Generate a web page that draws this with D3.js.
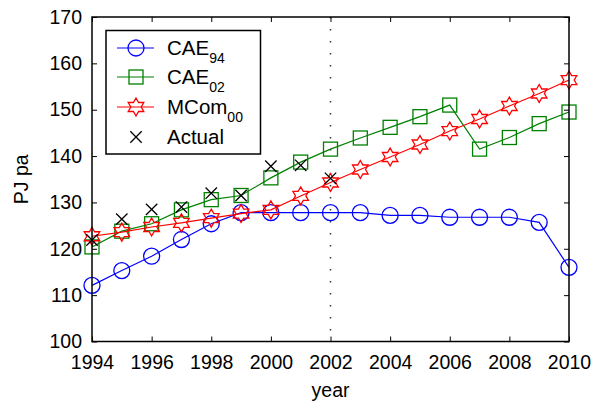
<!DOCTYPE html>
<html>
<head>
<meta charset="utf-8">
<script src="https://cdn.jsdelivr.net/npm/d3@7"></script>
<style>
  body { margin: 0; background: #fff; }
  svg { font-family: "Liberation Sans", Arial, sans-serif; }
</style>
</head>
<body>
<svg id="chart" width="597" height="405"></svg>
<script>
const svg = d3.select('svg#chart');

// data
const years = d3.range(1994, 2011);
const cae94 = [112.1, 115.3, 118.4, 122.0, 125.4, 127.8, 127.8, 127.8, 127.8, 127.8,
               127.2, 127.2, 126.8, 126.8, 126.8, 125.7, 116.0];
const cae02 = [120.4, 123.8, 125.4, 128.4, 130.6, 131.5, 135.3, 138.7, 141.5, 143.9,
               146.2, 148.5, 151.0, 141.5, 144.0, 147.0, 149.5];
const mcom00 = [122.7, 123.6, 124.7, 125.6, 126.6, 127.6, 128.4, 131.4, 134.3, 137.1,
                139.8, 142.5, 145.4, 148.0, 150.8, 153.5, 156.4];
const actualYears = d3.range(1994, 2003);
const actual = [121.9, 126.4, 128.5, 129.0, 132.0, 131.5, 137.8, 138.0, 135.2];
const xTicks = d3.range(1994, 2011, 2);
const yTicks = d3.range(100, 171, 10);
const markYear = 2002;

const margin = { top: 17, right: 28, bottom: 63.5, left: 92 };
const innerWidth = 597 - margin.left - margin.right;
const innerHeight = 405 - margin.top - margin.bottom;

const g = svg.append('g')
  .attr('transform', `translate(${margin.left},${margin.top})`);

const xScale = d3.scaleLinear().domain([1994, 2010]).range([0, innerWidth]);
const yScale = d3.scaleLinear().domain([100, 170]).range([innerHeight, 0]);

// ticks pointing inward on all four sides
const tickLen = 5;
const axisStyle = sel => {
  sel.select('.domain').remove();
  sel.selectAll('.tick line').attr('stroke', '#000').attr('stroke-width', 1);
  sel.selectAll('.tick text').attr('fill', '#000').style('font-size', '19.5px');
};
const noLabels = sel => sel.selectAll('.tick text').remove();

g.append('g')
  .attr('transform', `translate(0,${innerHeight})`)
  .call(d3.axisBottom(xScale).tickValues(xTicks).tickFormat(d3.format('d'))
    .tickSizeInner(-tickLen).tickSizeOuter(0).tickPadding(14))
  .call(axisStyle);
g.append('g')
  .call(d3.axisTop(xScale).tickValues(xTicks)
    .tickSizeInner(-tickLen).tickSizeOuter(0))
  .call(axisStyle)
  .call(noLabels);
g.append('g')
  .call(d3.axisLeft(yScale).tickValues(yTicks)
    .tickSizeInner(-tickLen).tickSizeOuter(0).tickPadding(10))
  .call(axisStyle);
g.append('g')
  .attr('transform', `translate(${innerWidth},0)`)
  .call(d3.axisRight(yScale).tickValues(yTicks)
    .tickSizeInner(-tickLen).tickSizeOuter(0))
  .call(axisStyle)
  .call(noLabels);

// dotted vertical line
g.append('line')
  .attr('x1', xScale(markYear)).attr('x2', xScale(markYear))
  .attr('y1', 0).attr('y2', innerHeight)
  .attr('stroke', '#333').attr('stroke-width', 1.5)
  .attr('stroke-dasharray', '1.5,10.5');

// marker shapes
const hexagram = (R) => {
  const r = R / Math.sqrt(3);
  const pts = d3.range(12).map(i => {
    const a = -Math.PI / 2 + i * Math.PI / 6;
    const rr = i % 2 === 0 ? R : r;
    return [rr * Math.cos(a), rr * Math.sin(a)];
  });
  return 'M' + pts.map(p => p.join(',')).join('L') + 'Z';
};
const drawMarker = (sel, type, color) => {
  if (type === 'circle') {
    sel.append('circle').attr('r', 8);
  } else if (type === 'square') {
    sel.append('rect').attr('x', -7).attr('y', -7).attr('width', 14).attr('height', 14);
  } else if (type === 'star') {
    sel.append('path').attr('d', hexagram(9));
  } else {
    sel.append('path').attr('d', 'M-5.7,-5.7L5.7,5.7M-5.7,5.7L5.7,-5.7');
  }
  sel.selectAll('*')
    .attr('fill', 'none')
    .attr('stroke', color)
    .attr('stroke-width', 1.3);
};

const series = [
  { name: 'CAE', sub: '94', xs: years, ys: cae94, color: '#0000ff', marker: 'circle', line: true },
  { name: 'CAE', sub: '02', xs: years, ys: cae02, color: '#008000', marker: 'square', line: true },
  { name: 'MCom', sub: '00', xs: years, ys: mcom00, color: '#ff0000', marker: 'star', line: true },
  { name: 'Actual', sub: '', xs: actualYears, ys: actual, color: '#000000', marker: 'x', line: false }
];

const lineGen = d3.line().x(d => xScale(d[0])).y(d => yScale(d[1]));

series.forEach(s => {
  const pts = s.xs.map((x, i) => [x, s.ys[i]]);
  if (s.line) {
    g.append('path')
      .datum(pts)
      .attr('d', lineGen)
      .attr('fill', 'none')
      .attr('stroke', s.color)
      .attr('stroke-width', 1.2);
  }
  g.append('g').selectAll('g').data(pts).enter().append('g')
    .attr('transform', d => `translate(${xScale(d[0])},${yScale(d[1])})`)
    .each(function() { drawMarker(d3.select(this), s.marker, s.color); });
});

// frame
g.append('rect')
  .attr('width', innerWidth).attr('height', innerHeight)
  .attr('fill', 'none').attr('stroke', '#000').attr('stroke-width', 1.5);

// axis labels
svg.append('text')
  .attr('x', margin.left + innerWidth / 2)
  .attr('y', 397)
  .attr('text-anchor', 'middle')
  .style('font-size', '19.5px')
  .text('year');
svg.append('text')
  .attr('transform', `translate(28,${margin.top + innerHeight / 2}) rotate(-90)`)
  .attr('text-anchor', 'middle')
  .style('font-size', '19.5px')
  .text('PJ pa');

// legend
const legendG = svg.append('g');
legendG.append('rect')
  .attr('x', 106).attr('y', 30.5).attr('width', 154.5).attr('height', 123.5)
  .attr('fill', '#fff').attr('stroke', '#000').attr('stroke-width', 1.5);
const legendRows = [48, 77, 107, 137];
series.forEach((s, i) => {
  const row = legendG.append('g').attr('transform', `translate(0,${legendRows[i]})`);
  if (s.line) {
    row.append('line')
      .attr('x1', 117).attr('x2', 154).attr('y1', 0).attr('y2', 0)
      .attr('stroke', s.color).attr('stroke-width', 1.2);
  }
  const m = row.append('g').attr('transform', 'translate(136,0)');
  drawMarker(m, s.marker, s.color);
  const t = row.append('text')
    .attr('x', 167).attr('y', 6.5)
    .style('font-size', '20.5px')
    .text(s.name);
  if (s.sub) {
    t.append('tspan')
      .attr('dy', 8)
      .style('font-size', '14px')
      .text(s.sub);
  }
});
</script>
</body>
</html>
